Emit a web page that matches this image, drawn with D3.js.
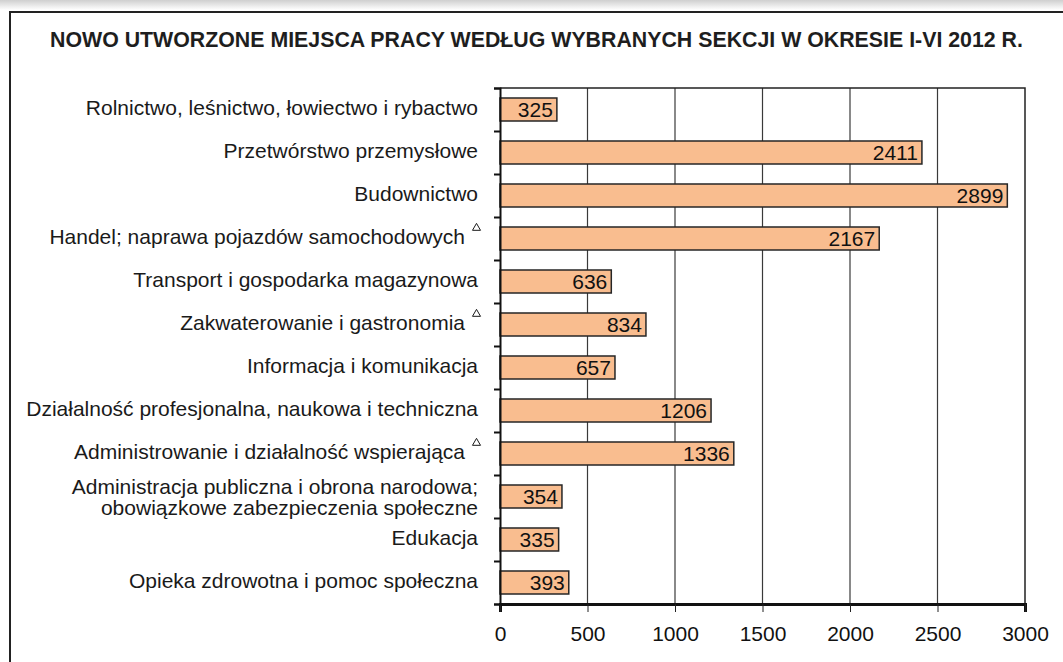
<!DOCTYPE html>
<html>
<head>
<meta charset="utf-8">
<script src="https://cdn.jsdelivr.net/npm/d3@7"></script>
<style>
  html, body { margin: 0; padding: 0; background: #fff; }
  svg { display: block; font-family: "Liberation Sans", Arial, sans-serif; }
</style>
</head>
<body>
<div class="chart"></div>
<script>
// data
var categories = [
  "Rolnictwo, leśnictwo, łowiectwo i rybactwo",
  "Przetwórstwo przemysłowe",
  "Budownictwo",
  "Handel; naprawa pojazdów samochodowych",
  "Transport i gospodarka magazynowa",
  "Zakwaterowanie i gastronomia",
  "Informacja i komunikacja",
  "Działalność profesjonalna, naukowa i techniczna",
  "Administrowanie i działalność wspierająca",
  "Administracja publiczna i obrona narodowa;|obowiązkowe zabezpieczenia społeczne",
  "Edukacja",
  "Opieka zdrowotna i pomoc społeczna"
];
var values = [325, 2411, 2899, 2167, 636, 834, 657, 1206, 1336, 354, 335, 393];
var marked = [false, false, false, true, false, true, false, false, true, false, false, false];
var xTicks = [0, 500, 1000, 1500, 2000, 2500, 3000];
var title = "NOWO UTWORZONE MIEJSCA PRACY WEDŁUG WYBRANYCH SEKCJI W OKRESIE I-VI 2012 R.";

var svgWidth = 1063;
var svgHeight = 662;

var margin = { top: 88, left: 500, right: 38, bottom: 58 };
var width = svgWidth - margin.left - margin.right;   // 525
var height = svgHeight - margin.top - margin.bottom; // 516

var fontSize = 21;

var svg = d3.select(".chart")
  .append("svg")
  .attr("width", svgWidth)
  .attr("height", svgHeight);

// grey band at the very top of the page
var grad = svg.append("defs").append("linearGradient")
  .attr("id", "topfade").attr("x1", 0).attr("y1", 0).attr("x2", 0).attr("y2", 1);
grad.append("stop").attr("offset", "0%").attr("stop-color", "#cfcfcf");
grad.append("stop").attr("offset", "100%").attr("stop-color", "#ffffff");
svg.append("rect").attr("x", 0).attr("y", 0).attr("width", svgWidth).attr("height", 10)
  .attr("fill", "url(#topfade)");

// outer frame (only the left and top sides are in view)
svg.append("path")
  .attr("d", `M10,${svgHeight} V12 H${svgWidth}`)
  .attr("fill", "none")
  .attr("stroke", "#222")
  .attr("stroke-width", 2);

// title, fitted to its width
var titleText = svg.append("text")
  .attr("x", 536.5)
  .attr("y", 47)
  .attr("text-anchor", "middle")
  .attr("font-weight", "bold")
  .attr("font-size", 20)
  .attr("fill", "#1e1e1e")
  .text(title);
var tw = titleText.node().getComputedTextLength();
titleText.attr("font-size", 20 * 973 / tw);

var chartGroup = svg.append("g")
  .attr("transform", `translate(${margin.left}, ${margin.top})`);

// scales
var xScale = d3.scaleLinear()
  .domain([0, 3000])
  .range([0, width]);

var yScale = d3.scaleBand()
  .domain(d3.range(categories.length))
  .range([0, height])
  .paddingInner(0.465)
  .paddingOuter(0.2325);

var yEdges = d3.scaleLinear()
  .domain([0, categories.length])
  .range([0, height]);

// gridlines
chartGroup.append("g")
  .selectAll("line")
  .data(xTicks.slice(1, -1))
  .enter()
  .append("line")
  .attr("x1", d => xScale(d))
  .attr("x2", d => xScale(d))
  .attr("y1", 0)
  .attr("y2", height)
  .attr("stroke", "#3a3a3a")
  .attr("stroke-width", 1.2);

// top and right border of plot
chartGroup.append("path")
  .attr("d", `M0,0 H${width} V${height}`)
  .attr("fill", "none")
  .attr("stroke", "#222")
  .attr("stroke-width", 1.5);

// bars
chartGroup.selectAll("rect.bar")
  .data(values)
  .enter()
  .append("rect")
  .attr("class", "bar")
  .attr("x", xScale(0))
  .attr("y", (d, i) => yScale(i))
  .attr("width", d => xScale(d))
  .attr("height", yScale.bandwidth())
  .attr("fill", "#f9bd8f")
  .attr("stroke", "#262626")
  .attr("stroke-width", 1.5);

// value labels
chartGroup.selectAll("text.val")
  .data(values)
  .enter()
  .append("text")
  .attr("class", "val")
  .attr("x", d => xScale(d) - 4)
  .attr("y", (d, i) => yScale(i) + yScale.bandwidth() / 2 + 7.5)
  .attr("text-anchor", "end")
  .attr("font-size", fontSize)
  .attr("fill", "#111")
  .text(d => d);

// bottom axis
var bottomAxis = d3.axisBottom(xScale)
  .tickValues(xTicks)
  .tickSize(8)
  .tickPadding(14)
  .tickFormat(d3.format("d"));

var xAxisG = chartGroup.append("g")
  .attr("transform", `translate(0, ${height})`)
  .call(bottomAxis);
xAxisG.select(".domain").attr("stroke", "#111").attr("stroke-width", 3);
xAxisG.selectAll(".tick line").attr("stroke", "#222").attr("stroke-width", 1);
xAxisG.selectAll(".tick text")
  .attr("font-size", fontSize)
  .attr("font-family", "Liberation Sans, Arial, sans-serif")
  .attr("fill", "#111");

// left axis: ticks at category boundaries
var leftAxis = d3.axisLeft(yEdges)
  .tickValues(d3.range(categories.length + 1))
  .tickSize(6)
  .tickFormat("");

var yAxisG = chartGroup.append("g").call(leftAxis);
yAxisG.select(".domain").attr("stroke", "#111").attr("stroke-width", 2);
yAxisG.selectAll(".tick line").attr("stroke", "#111").attr("stroke-width", 2);

// category labels
var labelX = -22;
var triangle = d3.symbol().type(d3.symbolTriangle).size(28);
categories.forEach(function(c, i) {
  var cy = yScale(i) + yScale.bandwidth() / 2;
  var lines = c.split("|");
  var endX = marked[i] ? -35 : labelX;
  var t = chartGroup.append("text")
    .attr("text-anchor", "end")
    .attr("font-size", fontSize)
    .attr("fill", "#1a1a1a");
  if (lines.length === 1) {
    t.attr("x", endX).attr("y", cy + 5.5).text(c);
  } else {
    lines.forEach(function(l, k) {
      t.append("tspan")
        .attr("x", endX)
        .attr("y", cy - 3 + (k * 21))
        .text(l);
    });
  }
  // small hollow triangle marker after some labels
  if (marked[i]) {
    chartGroup.append("path")
      .attr("d", triangle())
      .attr("transform", `translate(-23.5, ${cy - 10.5})`)
      .attr("fill", "none")
      .attr("stroke", "#1a1a1a")
      .attr("stroke-width", 1);
  }
});
</script>
</body>
</html>
